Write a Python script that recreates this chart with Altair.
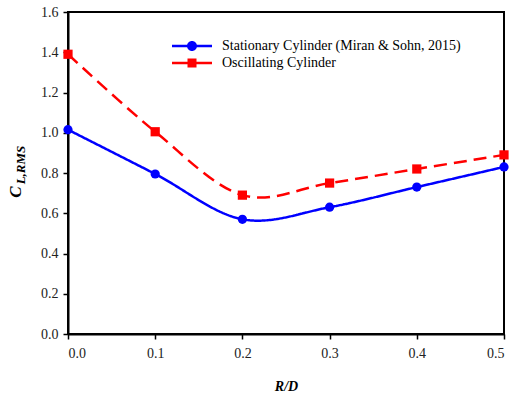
import altair as alt
import pandas as pd

# R/D ratios and RMS lift coefficients for the two cylinder cases
rd = [0.0, 0.1, 0.2, 0.3, 0.4, 0.5]
stationary = [1.015, 0.795, 0.57, 0.63, 0.73, 0.83]
oscillating = [1.39, 1.005, 0.69, 0.75, 0.82, 0.89]

series_names = ["Stationary Cylinder (Miran & Sohn, 2015)", "Oscillating Cylinder"]
series_colors = ["#0000ff", "#ff0000"]

x_ticks = [0.0, 0.1, 0.2, 0.3, 0.4, 0.5]
y_ticks = [0.0, 0.2, 0.4, 0.6, 0.8, 1.0, 1.2, 1.4, 1.6]

rows = []
for name, vals in zip(series_names, [stationary, oscillating]):
    for r, v in zip(rd, vals):
        rows.append({"rd": r, "cl": v, "series": name})
df = pd.DataFrame(rows)

FONT = "Liberation Serif"

# legend glyphs: a short line segment with the marker on top (both sub-paths clockwise)
legend_shapes = [
    "M-2,-0.125H2V0.125H-2Z M0.5,0A0.5,0.5,0,1,1,-0.5,0A0.5,0.5,0,1,1,0.5,0Z",
    "M-2,-0.125H2V0.125H-2Z M-0.45,-0.45H0.45V0.45H-0.45Z",
]

axis_style = dict(
    grid=False, domainColor="#000000", domainWidth=2, tickColor="#000000",
    tickWidth=1.5, tickSize=5, labelFont=FONT, labelFontSize=14,
    labelColor="#222222", format=".1f",
)

x_enc = alt.X(
    "rd:Q",
    scale=alt.Scale(domain=[0, 0.5], nice=False, zero=False),
    axis=alt.Axis(
        values=x_ticks, title="R/D", titleFont=FONT, titleColor="#000000",
        titleFontStyle="italic", titleFontWeight="bold", titleFontSize=14,
        titlePadding=19, labelPadding=7, **axis_style,
    ),
)
y_enc = alt.Y(
    "cl:Q",
    scale=alt.Scale(domain=[0, 1.6], nice=False),
    axis=alt.Axis(values=y_ticks, title=None, labelPadding=5, **axis_style),
)

color_scale = alt.Scale(domain=series_names, range=series_colors)

legend = alt.Legend(
    title=None, orient="none", legendX=114, legendY=24, padding=0,
    symbolSize=400, symbolStrokeWidth=0, symbolOpacity=1, labelOffset=20,
    labelFont=FONT, labelFontSize=14, labelColor="#000000", rowPadding=0,
    labelLimit=400,
)

base = alt.Chart(df)

lines = base.mark_line(interpolate="cardinal", strokeWidth=2.5).encode(
    x=x_enc, y=y_enc,
    color=alt.Color("series:N", scale=color_scale, legend=None),
    strokeDash=alt.StrokeDash(
        "series:N",
        scale=alt.Scale(domain=series_names, range=[[1, 0], [13, 7]]),
        legend=None,
    ),
)

circles = base.transform_filter(
    alt.datum.series == series_names[0]
).mark_circle(size=85, opacity=1).encode(
    x=x_enc, y=y_enc,
    color=alt.Color("series:N", scale=color_scale, legend=None),
)

squares = base.transform_filter(
    alt.datum.series == series_names[1]
).mark_square(size=85, opacity=1).encode(
    x=x_enc, y=y_enc,
    color=alt.Color("series:N", scale=color_scale, legend=None),
)

# invisible carrier layer that produces the legend
legend_layer = base.mark_point(filled=True, opacity=0).encode(
    x=x_enc, y=y_enc,
    color=alt.Color("series:N", scale=color_scale, legend=legend),
    shape=alt.Shape(
        "series:N", scale=alt.Scale(domain=series_names, range=legend_shapes),
        legend=legend,
    ),
)

one = alt.Data(values=[{}])
y_title_main = alt.Chart(one).mark_text(
    text="C", angle=270, font=FONT, fontSize=17, fontWeight="bold",
    fontStyle="italic", align="center", baseline="middle", color="#000000",
).encode(x=alt.value(-52), y=alt.value(180))
y_title_sub = alt.Chart(one).mark_text(
    text="L,RMS", angle=270, font=FONT, fontSize=13, fontWeight="bold",
    fontStyle="italic", align="center", baseline="middle", color="#000000",
).encode(x=alt.value(-47), y=alt.value(153))

chart = alt.layer(
    legend_layer, lines, circles, squares, y_title_main, y_title_sub
).properties(
    width=436, height=322,
    padding={"left": 68, "top": 12, "right": 7, "bottom": 65},
    autosize=alt.AutoSizeParams(type="none"),
    background="#ffffff",
).configure_view(
    stroke="#000000", strokeWidth=2,
)

chart.save("out.html", embed_options={"renderer": "svg", "actions": False})
